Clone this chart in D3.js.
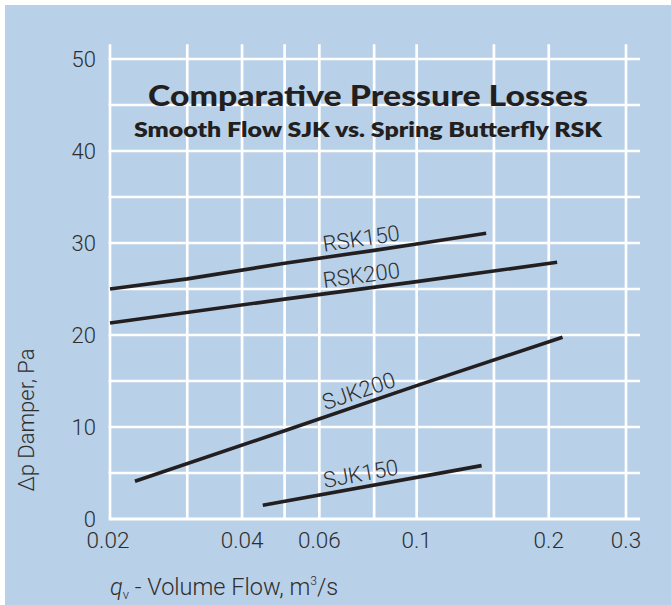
<!DOCTYPE html>
<html><head><meta charset="utf-8">
<script src="https://cdn.jsdelivr.net/npm/d3@7"></script>
<style>
html,body{margin:0;padding:0;background:#fff;}
svg{display:block;}
</style></head>
<body>
<script>
// ---- data ----
const xTicks = [0.02, 0.04, 0.06, 0.1, 0.2, 0.3];
const xTickLabels = ["0.02", "0.04", "0.06", "0.1", "0.2", "0.3"];
const xGrid = [0.02, 0.03, 0.04, 0.05, 0.06, 0.08, 0.1, 0.15, 0.2, 0.3];
const yTicks = [0, 10, 20, 30, 40, 50];
const yGrid = [0, 5, 10, 15, 20, 25, 30, 35, 40, 45, 50];
const seriesNames = ["RSK150", "RSK200", "SJK200", "SJK150"];
const rsk150 = [[0.02, 25.0], [0.03, 26.1], [0.05, 27.8], [0.08, 29.2], [0.1, 29.9], [0.144, 31.05]];
const rsk200 = [[0.02, 21.3], [0.05, 23.9], [0.1, 25.8], [0.209, 27.9]];
const sjk200 = [[0.0228, 4.1], [0.05, 9.6], [0.1, 14.5], [0.215, 19.75]];
const sjk150 = [[0.0446, 1.5], [0.1406, 5.8]];
const labelX = 0.0755;
const titleText = "Comparative Pressure Losses";
const subtitleText = "Smooth Flow SJK vs. Spring Butterfly RSK";
const yTitle = "\u0394p Damper, Pa";

const W = 671, H = 605;
const svg = d3.select("body").append("svg").attr("width", W).attr("height", H);

svg.append("rect").attr("x", 0).attr("y", 0).attr("width", W).attr("height", H).attr("fill", "#ffffff");
svg.append("rect").attr("x", 5).attr("y", 5).attr("width", W - 5).attr("height", H - 5).attr("fill", "#b9d0e9");

const x = d3.scaleLog().domain([0.02, 0.3]).range([110, 626]);
const y = d3.scaleLinear().domain([0, 50]).range([519, 59]);
const xEnd = 0.323, yEnd = 51.6;

const grid = svg.append("g");
grid.selectAll("line.v").data(xGrid).enter().append("line")
  .attr("x1", d => x(d)).attr("x2", d => x(d))
  .attr("y1", y(0)).attr("y2", y(yEnd))
  .attr("stroke", "#ffffff").attr("stroke-width", 2.7);
grid.selectAll("line.h").data(yGrid).enter().append("line")
  .attr("x1", x(0.02) - 1.3).attr("x2", x(xEnd))
  .attr("y1", d => y(d)).attr("y2", d => y(d))
  .attr("stroke", "#ffffff").attr("stroke-width", d => d === 0 ? 3 : 2.6);

const tickFont = "Roboto, 'Liberation Sans', Arial, sans-serif";
const tickWeight = 300;
const textCol = "#2e2e2e";
// y tick labels
svg.append("g").selectAll("text").data(yTicks).enter().append("text")
  .attr("x", 96).attr("y", d => y(d) + 8)
  .attr("text-anchor", "end")
  .attr("font-family", tickFont).attr("font-weight", tickWeight).attr("font-size", 22)
  .attr("fill", textCol)
  .text(d => d);
// x tick labels
svg.append("g").selectAll("text").data(xTicks).enter().append("text")
  .attr("x", (d) => x(d) - (d === 0.02 ? 2 : 0)).attr("y", 548)
  .attr("text-anchor", "middle")
  .attr("font-family", tickFont).attr("font-weight", tickWeight).attr("font-size", 22.5)
  .attr("fill", textCol)
  .text((d, i) => xTickLabels[i]);

// axis titles
svg.append("text")
  .attr("transform", "translate(34,420) rotate(-90)")
  .attr("text-anchor", "middle")
  .attr("font-family", tickFont).attr("font-weight", tickWeight).attr("font-size", 22)
  .attr("fill", textCol)
  .text(yTitle);

const xt = svg.append("text").attr("x", 110).attr("y", 595)
  .attr("font-family", tickFont).attr("font-weight", tickWeight).attr("font-size", 23.5).attr("fill", textCol);
xt.append("tspan").attr("font-style", "italic").text("q");
xt.append("tspan").attr("font-size", 13).attr("dy", 4).text("v");
xt.append("tspan").attr("dy", -4).text(" - Volume Flow, m");
xt.append("tspan").attr("font-size", 12).attr("dy", -10).text("3");
xt.append("tspan").attr("dy", 10).text("/s");

// lines
const line = d3.line().x(d => x(d[0])).y(d => y(d[1]));
const allSeries = [rsk150, rsk200, sjk200, sjk150];
svg.append("g").selectAll("path").data(allSeries).enter().append("path")
  .attr("d", line)
  .attr("fill", "none").attr("stroke", "#231f20").attr("stroke-width", 3.6)
  .attr("stroke-linecap", "butt");

// line labels
function valueAt(s, xv) {
  for (let i = 0; i < s.length - 1; i++) {
    const a = s[i], b = s[i + 1];
    if (xv >= a[0] && xv <= b[0]) {
      const t = (Math.log(xv) - Math.log(a[0])) / (Math.log(b[0]) - Math.log(a[0]));
      return a[1] + t * (b[1] - a[1]);
    }
  }
  return s[s.length - 1][1];
}
allSeries.forEach((s, i) => {
  const a = s[0], b = s[s.length - 1];
  const ang = Math.atan2(y(b[1]) - y(a[1]), x(b[0]) - x(a[0])) * 180 / Math.PI;
  const px = x(labelX), py = y(valueAt(s, labelX));
  svg.append("text")
    .attr("transform", `translate(${px},${py}) rotate(${ang}) translate(0,-6)`)
    .attr("text-anchor", "middle")
    .attr("font-family", tickFont).attr("font-weight", tickWeight).attr("font-size", 22)
    .attr("fill", textCol)
    .text(seriesNames[i]);
});

// titles
const titleFont = "Lato, 'DejaVu Sans', sans-serif";
svg.append("text").attr("x", 368).attr("y", 106)
  .attr("text-anchor", "middle")
  .attr("font-family", titleFont).attr("font-weight", 900).attr("font-size", 29)
  .attr("fill", "#231f20")
  .attr("textLength", 440).attr("lengthAdjust", "spacingAndGlyphs")
  .text(titleText);
svg.append("text").attr("x", 368).attr("y", 137)
  .attr("text-anchor", "middle")
  .attr("font-family", titleFont).attr("font-weight", 800).attr("font-size", 21)
  .attr("fill", "#231f20")
  .attr("textLength", 468).attr("lengthAdjust", "spacingAndGlyphs")
  .text(subtitleText);
</script>
</body></html>
